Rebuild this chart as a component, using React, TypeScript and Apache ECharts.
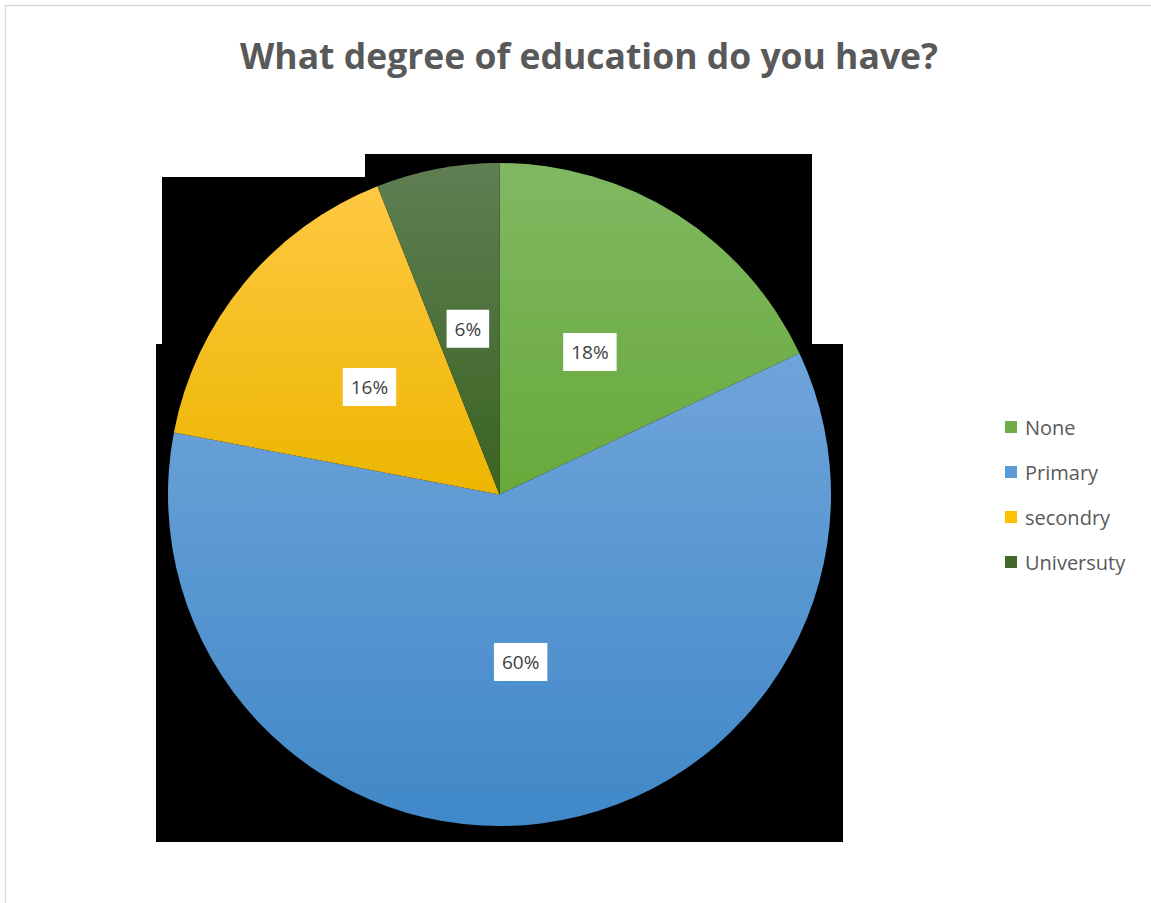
import React, { useEffect, useRef } from "react";
import * as echarts from "echarts";

const categories = ["None", "Primary", "secondry", "Universuty"];
const values = [18, 60, 16, 6];
const topColors = ["#80b862", "#6fa4da", "#ffc843", "#5f7f53"];
const bottomColors = ["#68a93b", "#4088c8", "#ecb600", "#3a6322"];
const legendColors = ["#70ad47", "#5b9bd5", "#ffc000", "#43682b"];

export default function App() {
  const ref = useRef<HTMLDivElement>(null);
  useEffect(() => {
    document.body.style.margin = "0";
    const chart = echarts.init(ref.current!, null, { renderer: "svg" });
    const data = categories.map((name, i) => ({
      name,
      value: values[i],
      itemStyle: {
        color: new echarts.graphic.LinearGradient(0, 0, 0, 1, [
          { offset: 0, color: topColors[i] },
          { offset: 1, color: bottomColors[i] },
        ]),
      },
    }));
    chart.setOption({
      animation: false,
      backgroundColor: "#ffffff",
      title: {
        text: "What degree of education do you have?",
        left: 584,
        textAlign: "center",
        top: 32,
        textStyle: {
          fontFamily: "Open Sans",
          fontWeight: "bold",
          fontSize: 35.5,
          color: "#595959",
        },
      },
      legend: {
        orient: "vertical",
        left: 1000,
        top: 411,
        itemWidth: 12,
        itemHeight: 12,
        itemGap: 23,
        icon: "rect",
        data: categories.map((name, i) => ({
          name,
          itemStyle: { color: legendColors[i] },
        })),
        textStyle: {
          fontFamily: "Open Sans",
          fontSize: 20,
          lineHeight: 22,
          color: "#595959",
          padding: [0, 0, 0, 3],
        },
      },
      graphic: [
        {
          type: "rect",
          z: -10,
          shape: { x: 5.5, y: 5.5, width: 1200, height: 1000 },
          style: { fill: "none", stroke: "#d9d9d9", lineWidth: 1.5 },
        },
        {
          type: "rect",
          z: -5,
          shape: { x: 365, y: 154, width: 447, height: 200 },
          style: { fill: "#000" },
        },
        {
          type: "rect",
          z: -5,
          shape: { x: 162, y: 177, width: 650, height: 180 },
          style: { fill: "#000" },
        },
        {
          type: "rect",
          z: -5,
          shape: { x: 156, y: 344, width: 687, height: 498 },
          style: { fill: "#000" },
        },
      ],
      series: [
        {
          type: "pie",
          center: [499.5, 494.5],
          radius: 331.5,
          startAngle: 90,
          clockwise: true,
          z: 5,
          data,
          itemStyle: { borderWidth: 0 },
          label: {
            show: true,
            position: "inside",
            formatter: (p: any) => p.value + "%",
            fontFamily: "Open Sans",
            fontSize: 19,
            color: "#404040",
            backgroundColor: "#ffffff",
            padding: [10, 8, 9, 8],
          },
          labelLine: { show: false },
          emphasis: { disabled: true },
        },
      ],
    });
    return () => chart.dispose();
  }, []);
  return <div ref={ref} style={{ width: 1151, height: 903 }} />;
}
